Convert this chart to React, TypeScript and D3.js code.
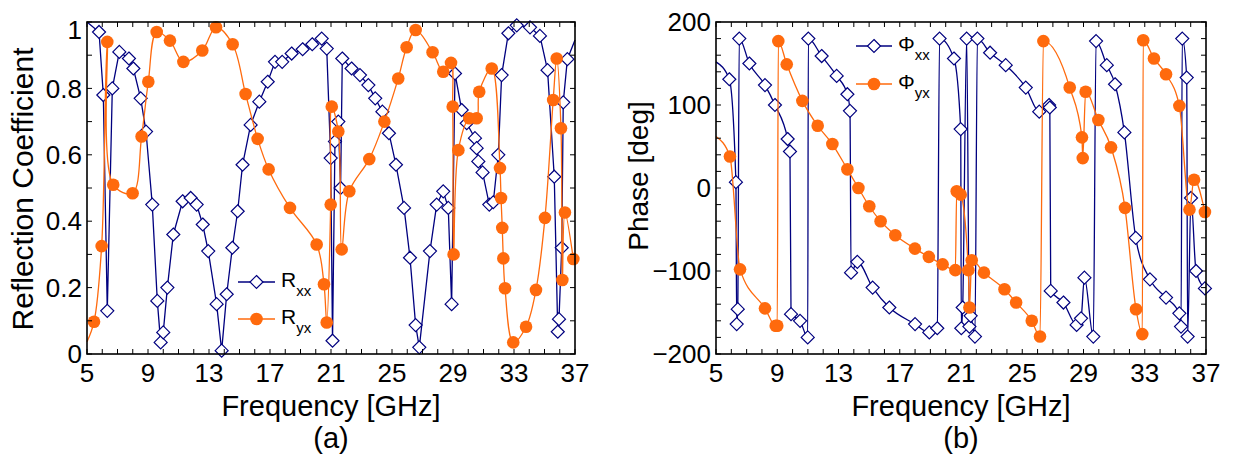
import React from 'react'
import * as d3 from 'd3'

// (a) reflection magnitude
const rxxFreq = [5, 5.79, 6.07, 6.33, 6.66, 7.12, 7.75, 8.04, 8.52, 8.87, 9.28, 9.61, 9.83, 10.0, 10.27, 10.66, 11.27, 11.8, 12.19, 12.59, 12.95, 13.5, 13.83, 14.16, 14.53, 14.88, 15.2, 15.73, 16.3, 16.85, 17.33, 17.8, 18.42, 19.14, 19.77, 20.39, 20.72, 20.98, 21.1, 21.26, 21.48, 21.63, 21.74, 22.35, 22.9, 23.45, 23.9, 24.37, 24.8, 25.26, 25.79, 26.18, 26.55, 26.79, 27.49, 27.93, 28.36, 28.69, 28.91, 29.13, 29.57, 29.9, 30.44, 30.55, 30.66, 30.94, 31.38, 31.64, 31.97, 32.19, 32.63, 33.18, 34.05, 34.7, 35.2, 35.64, 35.87, 35.95, 36.13, 36.23, 36.5, 37]
const rxxVal = [1.0, 0.97, 0.78, 0.13, 0.8, 0.91, 0.89, 0.86, 0.77, 0.67, 0.45, 0.16, 0.035, 0.065, 0.2, 0.36, 0.46, 0.47, 0.45, 0.39, 0.31, 0.15, 0.01, 0.18, 0.32, 0.43, 0.57, 0.69, 0.76, 0.82, 0.88, 0.88, 0.905, 0.918, 0.933, 0.95, 0.92, 0.59, 0.04, 0.64, 0.7, 0.5, 0.89, 0.86, 0.84, 0.81, 0.77, 0.73, 0.665, 0.57, 0.44, 0.29, 0.087, 0.02, 0.31, 0.45, 0.49, 0.44, 0.15, 0.845, 0.735, 0.695, 0.65, 0.62, 0.58, 0.547, 0.45, 0.457, 0.6, 0.84, 0.966, 0.99, 0.984, 0.958, 0.855, 0.534, 0.067, 0.105, 0.32, 0.758, 0.888, 0.946]
const ryxFreq = [5, 5.46, 5.96, 6.33, 6.72, 7.99, 8.58, 9.02, 9.57, 10.44, 11.32, 12.56, 13.46, 14.55, 15.4, 16.19, 16.91, 18.31, 20.06, 20.54, 20.72, 20.98, 21.05, 21.48, 21.7, 22.2, 23.51, 24.5, 25.41, 25.96, 26.55, 27.66, 28.36, 28.87, 28.98, 29.04, 29.35, 30.07, 30.55, 30.72, 31.54, 32.08, 32.15, 32.23, 32.3, 32.41, 32.95, 33.79, 34.44, 35.03, 35.57, 35.8, 36.08, 36.17, 36.34, 36.89]
const ryxVal = [0.037, 0.097, 0.325, 0.94, 0.51, 0.484, 0.655, 0.82, 0.97, 0.944, 0.88, 0.914, 0.984, 0.933, 0.783, 0.648, 0.556, 0.44, 0.33, 0.21, 0.095, 0.45, 0.745, 0.67, 0.315, 0.49, 0.587, 0.7, 0.83, 0.924, 0.976, 0.909, 0.85, 0.877, 0.745, 0.3, 0.614, 0.71, 0.71, 0.79, 0.86, 0.56, 0.47, 0.38, 0.288, 0.198, 0.035, 0.082, 0.193, 0.41, 0.765, 0.89, 0.68, 0.223, 0.426, 0.286]

// (b) phase
const pxxFreq = [5, 5.87, 6.3, 6.35, 6.42, 6.52, 7.18, 8.2, 8.85, 9.68, 9.83, 9.9, 10.49, 10.99, 11.03, 11.9, 12.88, 13.58, 13.75, 13.82, 14.23, 15.23, 16.32, 18.0, 18.93, 19.45, 19.6, 20.54, 20.98, 21.02, 21.11, 21.37, 21.55, 21.63, 21.91, 22.07, 22.9, 23.92, 25.23, 26.11, 26.75, 26.8, 26.86, 27.69, 28.55, 28.84, 29.06, 29.64, 29.82, 30.52, 31.06, 31.67, 32.41, 33.34, 34.39, 35.26, 35.37, 35.45, 35.74, 35.8, 36.02, 36.35, 36.93]
const pxxVal = [152, 131, 7, -164, -146, 180, 150, 124, 100, 59, 44, -152, -160, -180, 180, 159, 135, 113, 93, -102, -89, -120, -144, -164, -174, -169, 180, 156, 71, -169, -144, 180, -167, -154, -179, 180, 163, 148, 121, 92, 100, 97, -124, -138, -165, -157, -108, -179, 177, 148, 125, 67, -60, -110, -132, -151, -167, 180, 133, -179, -12, -100, -121]
const pyxFreq = [5, 5.91, 6.57, 8.2, 8.9, 9.0, 9.07, 9.62, 10.64, 11.64, 12.6, 13.58, 14.3, 15.01, 15.75, 16.71, 17.99, 18.9, 19.8, 20.63, 20.72, 20.98, 21.48, 21.55, 21.7, 22.5, 23.84, 24.6, 25.62, 26.16, 26.38, 28.1, 28.9, 28.95, 29.14, 29.97, 30.8, 31.71, 32.43, 32.84, 32.9, 33.6, 34.39, 35.26, 35.92, 36.22, 36.93]
const pyxVal = [62, 38, -98, -145, -166, -166, 177, 149, 105, 75, 53, 22.5, 0, -22, -40, -57, -73, -83, -92, -99, -4, -8, -99, -144, -87, -102, -122, -138, -160, -179, 177, 121, 61, 36, 116, 82, 49, -24, -146, -176, 178, 156, 137, 99, -26, 10, -29]

const freqTicks = [5, 9, 13, 17, 21, 25, 29, 33, 37]
const rTicks = [0, 0.2, 0.4, 0.6, 0.8, 1]
const phaseTicks = [-200, -100, 0, 100, 200]

const BLUE = '#00007f'
const ORANGE = '#ff6a0d'
const FONT = '"Liberation Sans", Arial, Helvetica, sans-serif'

function zip(f: number[], v: number[]): [number, number][] {
  return f.map((d, i) => [d, v[i]])
}

function Panel({ left, right, top, bottom, yDomain, yTicks, yMinorStep, yFmt, series, yLabel, yLabelX, yLabelY, yLabelSize, caption, legend }: any) {
  const x = d3.scaleLinear().domain([5, 37]).range([left, right])
  const y = d3.scaleLinear().domain(yDomain).range([bottom, top])
  const minorX = d3.range(5, 37.01, 1)
  const minorY = d3.range(yDomain[0], yDomain[1] + yMinorStep / 2, yMinorStep)
  const tl = 5
  return (
    <g>
      {series.map((s: any, k: number) => {
        const line = d3.line<[number, number]>().x(d => x(d[0])).y(d => y(d[1])).curve(s.curve)
        const pts = zip(s.f, s.v)
        return (
          <g key={k}>
            <path d={line(pts) || ''} fill="none" stroke={s.color} strokeWidth={1.3} />
            {pts.filter(p => p[0] > 5 && p[0] < 37).map((p, i) =>
              s.marker === 'diamond'
                ? <path key={i} d={`M${x(p[0])},${y(p[1]) - 6.5}l6.5,6.5l-6.5,6.5l-6.5,-6.5z`} fill="#fff" stroke={s.color} strokeWidth={1.2} />
                : <circle key={i} cx={x(p[0])} cy={y(p[1])} r={6.3} fill={s.color} />
            )}
          </g>
        )
      })}
      {/* frame and ticks */}
      <rect x={left} y={top} width={right - left} height={bottom - top} fill="none" stroke="#000" strokeWidth={1.6} />
      {minorX.map(t => (
        <g key={'x' + t}>
          <line x1={x(t)} x2={x(t)} y1={bottom} y2={bottom - tl} stroke="#000" strokeWidth={1} />
          <line x1={x(t)} x2={x(t)} y1={top} y2={top + tl} stroke="#000" strokeWidth={1} />
        </g>
      ))}
      {minorY.map(t => (
        <g key={'y' + t}>
          <line x1={left} x2={left + tl} y1={y(t)} y2={y(t)} stroke="#000" strokeWidth={1} />
          <line x1={right} x2={right - tl} y1={y(t)} y2={y(t)} stroke="#000" strokeWidth={1} />
        </g>
      ))}
      {freqTicks.map(t => (
        <text key={'xl' + t} x={x(t)} y={bottom + 28} textAnchor="middle" fontSize={26} fontFamily={FONT}>{t}</text>
      ))}
      {yTicks.map((t: number, i: number) => (
        <text key={'yl' + t} x={left - 5} y={y(t) + (i === yTicks.length - 1 && yDomain[1] === 1 ? 8 : 0)} dy="0.35em" textAnchor="end" fontSize={26} fontFamily={FONT}>{yFmt(t)}</text>
      ))}
      <text x={(left + right) / 2} y={bottom + 62} textAnchor="middle" fontSize={29} fontFamily={FONT}>Frequency [GHz]</text>
      <text x={(left + right) / 2} y={bottom + 94} textAnchor="middle" fontSize={29} fontFamily={FONT}>{caption}</text>
      <text transform={`translate(${yLabelX},${yLabelY}) rotate(-90)`} textAnchor="middle" fontSize={yLabelSize} fontFamily={FONT}>{yLabel}</text>
      {legend.items.map((it: any, i: number) => {
        const ly = legend.y + i * legend.gap
        const mx = (legend.x0 + legend.x1) / 2
        return (
          <g key={'lg' + i}>
            <line x1={legend.x0} x2={legend.x1} y1={ly} y2={ly} stroke={it.color} strokeWidth={1.3} />
            {it.marker === 'diamond'
              ? <path d={`M${mx},${ly - 6.5}l6.5,6.5l-6.5,6.5l-6.5,-6.5z`} fill="#fff" stroke={it.color} strokeWidth={1.2} />
              : <circle cx={mx} cy={ly} r={6.3} fill={it.color} />}
            <text x={legend.x1 + 6} y={ly + 5} fontSize={21} fontFamily={FONT}>
              {it.main}<tspan dy={9} fontSize={15}>{it.sub}</tspan>
            </text>
          </g>
        )
      })}
    </g>
  )
}

export default function App() {
  return (
    <svg width={1237} height={456} style={{ position: 'absolute', left: 0, top: 0, background: '#fff' }}>
      <Panel
        left={87} right={575} top={22} bottom={354}
        yDomain={[0, 1]} yTicks={rTicks} yMinorStep={0.1}
        yFmt={(t: number) => (t === 0 || t === 1 ? String(t) : t.toFixed(1))}
        series={[
          { f: rxxFreq, v: rxxVal, color: BLUE, marker: 'diamond', curve: d3.curveLinear },
          { f: ryxFreq, v: ryxVal, color: ORANGE, marker: 'circle', curve: d3.curveCatmullRom.alpha(0.5) },
        ]}
        yLabel="Reflection Coefficient" yLabelX={33} yLabelY={189} yLabelSize={30}
        caption="(a)"
        legend={{ x0: 238, x1: 275, y: 282, gap: 37, items: [
          { color: BLUE, marker: 'diamond', main: 'R', sub: 'xx' },
          { color: ORANGE, marker: 'circle', main: 'R', sub: 'yx' },
        ] }}
      />
      <Panel
        left={716} right={1206} top={22} bottom={354}
        yDomain={[-200, 200]} yTicks={phaseTicks} yMinorStep={20}
        yFmt={(t: number) => (t < 0 ? '\u2212' + Math.abs(t) : String(t))}
        series={[
          { f: pxxFreq, v: pxxVal, color: BLUE, marker: 'diamond', curve: d3.curveMonotoneX },
          { f: pyxFreq, v: pyxVal, color: ORANGE, marker: 'circle', curve: d3.curveMonotoneX },
        ]}
        yLabel="Phase [deg]" yLabelX={648} yLabelY={176} yLabelSize={28}
        caption="(b)"
        legend={{ x0: 856, x1: 892, y: 46, gap: 38, items: [
          { color: BLUE, marker: 'diamond', main: '\u03a6', sub: 'xx' },
          { color: ORANGE, marker: 'circle', main: '\u03a6', sub: 'yx' },
        ] }}
      />
    </svg>
  )
}
